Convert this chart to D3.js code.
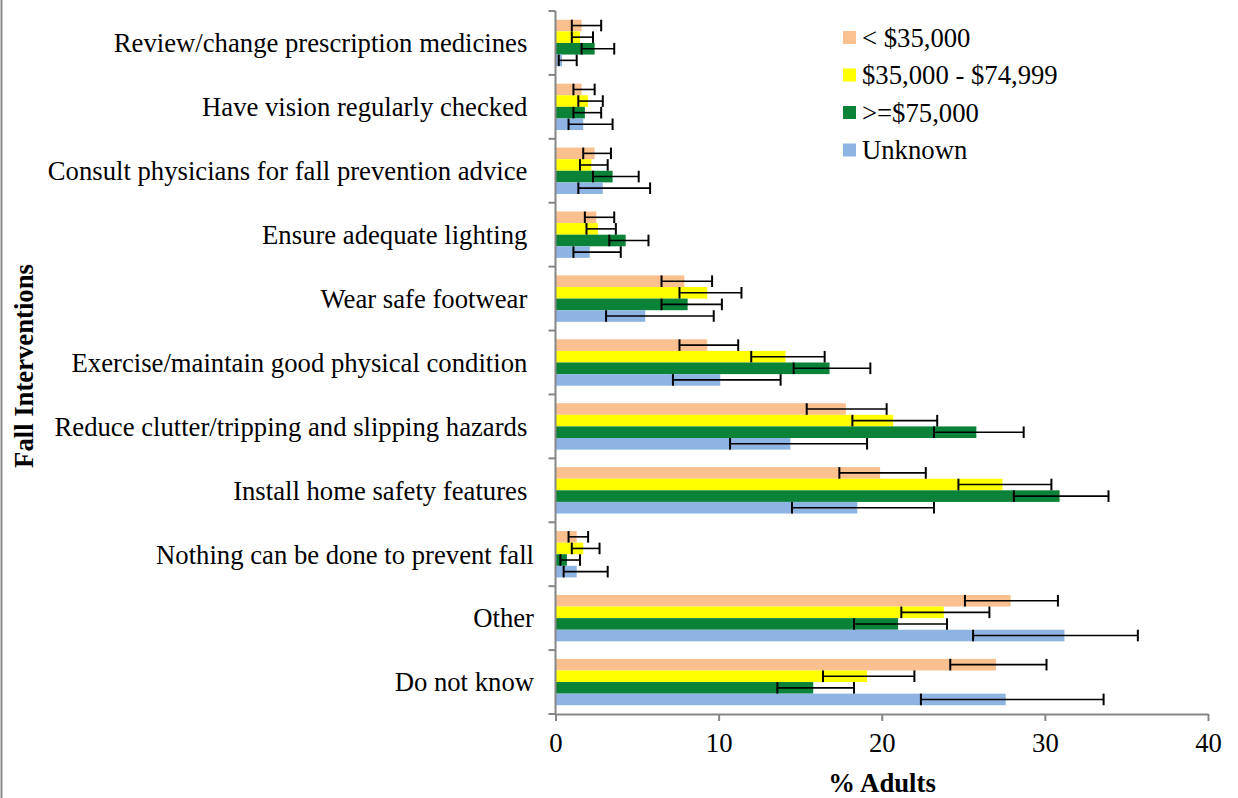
<!DOCTYPE html>
<html>
<head>
<meta charset="utf-8">
<script src="https://cdn.jsdelivr.net/npm/d3@7"></script>
<style>
  body { margin: 0; background: #fff; }
  svg { display: block; font-family: "Liberation Serif", "Times New Roman", serif; }
</style>
</head>
<body>
<svg id="chart" width="1238" height="798"></svg>
<script>
// Fall interventions reported by household income group (% adults, with 95% CI)
const categories = [
  "Review/change prescription medicines ",
  "Have vision regularly checked ",
  "Consult physicians for fall prevention advice ",
  "Ensure adequate lighting ",
  "Wear safe footwear ",
  "Exercise/maintain good physical condition ",
  "Reduce clutter/tripping and slipping hazards ",
  "Install home safety features ",
  "Nothing can be done to prevent fall",
  "Other",
  "Do not know"
];
const seriesNames = ["< $35,000", "$35,000 - $74,999", ">=$75,000", "Unknown"];

const incomeLow     = [1.6, 1.6, 2.4, 2.5, 7.9, 9.3, 17.8, 19.9, 1.3, 27.9, 27.0];
const incomeMid     = [1.5, 2.0, 2.2, 2.6, 9.3, 14.1, 20.7, 27.4, 1.7, 23.8, 19.1];
const incomeHigh    = [2.4, 1.8, 3.5, 4.3, 8.1, 16.8, 25.8, 30.9, 0.7, 21.0, 15.8];
const incomeUnknown = [0.4, 1.7, 2.9, 2.1, 5.5, 10.1, 14.4, 18.5, 1.3, 31.2, 27.6];

const lowCI     = [[1.0, 2.8], [1.1, 2.4], [1.7, 3.4], [1.8, 3.6], [6.5, 9.6], [7.6, 11.2], [15.4, 20.3], [17.4, 22.7], [0.8, 2.0], [25.1, 30.8], [24.2, 30.1]];
const midCI     = [[1.0, 2.3], [1.4, 2.9], [1.5, 3.2], [1.9, 3.7], [7.6, 11.4], [12.0, 16.5], [18.2, 23.4], [24.7, 30.4], [1.0, 2.7], [21.2, 26.6], [16.4, 22.0]];
const highCI    = [[1.6, 3.6], [1.1, 2.8], [2.3, 5.1], [3.3, 5.7], [6.5, 10.2], [14.6, 19.3], [23.2, 28.7], [28.1, 33.9], [0.3, 1.5], [18.3, 24.0], [13.6, 18.3]];
const unknownCI = [[0.2, 1.3], [0.8, 3.5], [1.4, 5.8], [1.1, 4.0], [3.1, 9.7], [7.2, 13.8], [10.7, 19.1], [14.5, 23.2], [0.5, 3.2], [25.6, 35.7], [22.4, 33.6]];

const xTicks = [0, 10, 20, 30, 40];
const colors = ["#fac090", "#ffff00", "#0a8237", "#8eb4e3"];

const seriesValues = [incomeLow, incomeMid, incomeHigh, incomeUnknown];
const seriesCI = [lowCI, midCI, highCI, unknownCI];

const svg = d3.select("#chart");
const plot = { left: 555.5, right: 1208, top: 11, bottom: 714 };
const axisColor = "#868686";
const fontSize = "26.7px";

// frame edge on the left
svg.append("line")
  .attr("x1", 1.5).attr("x2", 1.5).attr("y1", 0).attr("y2", 798)
  .attr("stroke", "#8a8a8a").attr("stroke-width", 2);

const x = d3.scaleLinear().domain([0, 40]).range([plot.left, plot.right]);
const y0 = d3.scaleBand().domain(categories).range([plot.top, plot.bottom]).padding(0);
const bw = y0.bandwidth();
const y1 = d3.scaleBand().domain(seriesNames).range([bw * 0.137, bw * 0.863]).padding(0);

// rows of data: one per category/series
const rows = [];
categories.forEach((c, i) => {
  seriesNames.forEach((s, j) => {
    rows.push({ cat: c, series: s, idx: j, value: seriesValues[j][i], lo: seriesCI[j][i][0], hi: seriesCI[j][i][1] });
  });
});

// bars
svg.append("g").selectAll("rect")
  .data(rows).join("rect")
  .attr("x", x(0))
  .attr("y", d => y0(d.cat) + y1(d.series))
  .attr("width", d => x(d.value) - x(0))
  .attr("height", y1.bandwidth())
  .attr("fill", d => colors[d.idx]);

// error bars
const eb = svg.append("g").attr("stroke", "#000").attr("stroke-width", 1.6);
rows.forEach(d => {
  const cy = y0(d.cat) + y1(d.series) + y1.bandwidth() / 2;
  const h = y1.bandwidth() / 2;
  eb.append("line").attr("x1", x(d.lo)).attr("x2", x(d.hi)).attr("y1", cy).attr("y2", cy);
  eb.append("line").attr("x1", x(d.lo)).attr("x2", x(d.lo)).attr("y1", cy - h).attr("y2", cy + h).attr("stroke-width", 2);
  eb.append("line").attr("x1", x(d.hi)).attr("x2", x(d.hi)).attr("y1", cy - h).attr("y2", cy + h).attr("stroke-width", 2);
});

// x axis
const xAxis = svg.append("g")
  .attr("transform", `translate(0,${plot.bottom})`)
  .call(d3.axisBottom(x).tickValues(xTicks).tickSize(7).tickPadding(12).tickSizeOuter(0));
xAxis.select(".domain").attr("stroke", axisColor).attr("stroke-width", 2);
xAxis.selectAll(".tick line").attr("stroke", axisColor).attr("stroke-width", 2);
xAxis.selectAll(".tick text")
  .attr("fill", "#000")
  .style("font-family", "Liberation Serif, serif")
  .style("font-size", fontSize);

// y axis line with ticks at category boundaries
const yg = svg.append("g");
yg.append("line")
  .attr("x1", plot.left).attr("x2", plot.left)
  .attr("y1", plot.top).attr("y2", plot.bottom + 1)
  .attr("stroke", axisColor).attr("stroke-width", 2);
const bounds = categories.map(c => y0(c)).concat([plot.bottom]);
yg.selectAll("line.tk").data(bounds).join("line")
  .attr("class", "tk")
  .attr("x1", plot.left - 7).attr("x2", plot.left)
  .attr("y1", d => d).attr("y2", d => d)
  .attr("stroke", axisColor).attr("stroke-width", 2);

// category labels
yg.selectAll("text.cat").data(categories).join("text")
  .attr("class", "cat")
  .attr("x", 534)
  .attr("y", d => y0(d) + bw / 2)
  .attr("dy", "0.35em")
  .attr("text-anchor", "end")
  .style("white-space", "pre")
  .style("font-size", fontSize)
  .attr("fill", "#000")
  .text(d => d);

// axis titles
svg.append("text")
  .attr("x", 882)
  .attr("y", 792)
  .attr("text-anchor", "middle")
  .style("font-size", fontSize).style("font-weight", "bold")
  .text("% Adults");

svg.append("text")
  .attr("transform", `translate(33,366) rotate(-90)`)
  .attr("text-anchor", "middle")
  .style("font-size", fontSize).style("font-weight", "bold")
  .text("Fall Interventions");

// legend
const legend = svg.append("g").attr("transform", "translate(843,31)");
seriesNames.forEach((s, j) => {
  const g = legend.append("g").attr("transform", `translate(0,${j * 37.5})`);
  g.append("rect").attr("width", 13).attr("height", 13).attr("fill", colors[j]);
  g.append("text").attr("x", 19).attr("y", 6.5).attr("dy", "0.35em")
    .style("font-size", fontSize).text(s);
});
</script>
</body>
</html>
